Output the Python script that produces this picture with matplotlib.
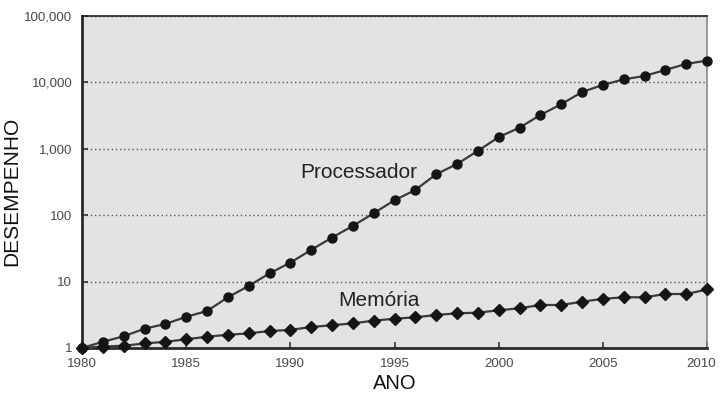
import numpy as np
import matplotlib.pyplot as plt
from matplotlib.ticker import FixedLocator, FixedFormatter, NullLocator
from matplotlib.transforms import ScaledTranslation

plt.rcParams['font.family'] = ['Liberation Sans', 'DejaVu Sans']

anos = np.arange(1980, 2011)

processador = [1, 1.24, 1.5, 1.95, 2.3, 2.95, 3.6, 5.8, 8.6, 13.3,
               19.3, 30, 46, 69, 107, 168, 240, 414, 590, 930,
               1500, 2080, 3230, 4690, 7160, 9150, 11100, 12500, 15400, 19000,
               21300]

memoria = [1, 1.05, 1.08, 1.17, 1.24, 1.35, 1.48, 1.58, 1.66, 1.80,
           1.87, 2.07, 2.2, 2.35, 2.58, 2.76, 2.9, 3.14, 3.33, 3.4,
           3.7, 3.96, 4.44, 4.44, 4.98, 5.5, 5.8, 5.8, 6.5, 6.5,
           7.6]

x_ticks = [1980, 1985, 1990, 1995, 2000, 2005, 2010]
y_ticks = [1, 10, 100, 1000, 10000, 100000]
y_labels = ["1", "10", "100", "1,000", "10,000", "100,000"]

fig = plt.figure(figsize=(7.2, 3.94), dpi=100)
ax = fig.add_axes([0.1139, 0.1168, 0.8681, 0.8426])
ax.set_facecolor("#e3e3e3")

ax.plot(anos, processador, "-o", color="#3a3a3a", lw=1.6,
        markersize=6.5, markerfacecolor="#151515", markeredgecolor="#151515",
        clip_on=False, zorder=3)
ax.plot(anos, memoria, "-D", color="#3a3a3a", lw=1.6,
        markersize=6, markerfacecolor="#151515", markeredgecolor="#151515",
        clip_on=False, zorder=3)

ax.set_yscale("log")
ax.set_xlim(1980, 2010)
ax.set_ylim(1, 100000)
ax.yaxis.set_major_locator(FixedLocator(y_ticks))
ax.yaxis.set_major_formatter(FixedFormatter(y_labels))
ax.yaxis.set_minor_locator(NullLocator())
ax.set_xticks(x_ticks)
ax.set_xticklabels([str(a) for a in x_ticks])

ax.grid(axis="y", which="major", linestyle=(0, (1, 2)), color="#555555", lw=1.0)
ax.set_axisbelow(True)

ax.tick_params(axis="both", direction="in", length=4, width=1.2, color="#333333",
               labelsize=9.6, labelcolor="#4a4a4a", pad=7)

# keep the last year label inside the figure
last = ax.get_xticklabels()[-1]
last.set_transform(last.get_transform() + ScaledTranslation(-4 / 72, 0, fig.dpi_scale_trans))

for side in ("left", "bottom"):
    ax.spines[side].set_linewidth(2.0)
    ax.spines[side].set_color("#2a2a2a")
ax.spines["top"].set_linewidth(1.2)
ax.spines["top"].set_color("#222222")
ax.spines["right"].set_linewidth(1.2)
ax.spines["right"].set_color("#888888")

ax.set_xlabel("ANO", fontsize=14.5, color="#111111", labelpad=3)
ax.set_ylabel("DESEMPENHO", fontsize=15, color="#111111")
ax.yaxis.set_label_coords(-0.0976, 0.473)

ax.text(1993.3, 432, "Processador", fontsize=15, color="#222222",
        ha="center", va="center")
ax.text(1994.26, 5.28, "Memória", fontsize=15, color="#222222",
        ha="center", va="center")

fig.savefig("out.png", dpi=100)
